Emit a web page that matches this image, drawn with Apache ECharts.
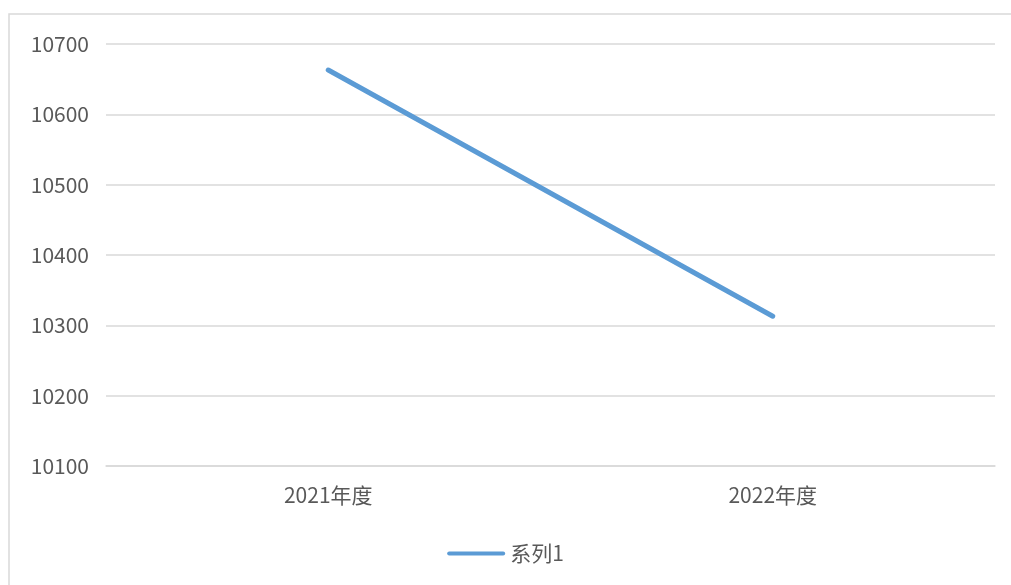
<!DOCTYPE html>
<html><head><meta charset="utf-8">
<script src="https://cdn.jsdelivr.net/npm/echarts@6/dist/echarts.min.js"></script>
<style>html,body{margin:0;padding:0;background:#fff}#c{width:1011px;height:585px}</style>
</head><body><div id="c"></div>
<script>
const categories = ['2021年度', '2022年度'];
const seriesName = '系列1';
const values = [10663, 10313];
const yMin = 10100, yMax = 10700, yStep = 100;

const chart = echarts.init(document.getElementById('c'), null, {renderer: 'canvas'});
const font = '"Noto Sans CJK SC", "Noto Sans", sans-serif';
chart.setOption({
  animation: false,
  backgroundColor: '#fff',
  graphic: [{
    type: 'rect', shape: {x: 9, y: 14, width: 1010, height: 580},
    style: {fill: 'none', stroke: '#d9d9d9', lineWidth: 1.5}, silent: true
  }],
  grid: {left: 106, right: 16, top: 44, bottom: 119, containLabel: false},
  legend: {
    data: [seriesName], bottom: 16, left: 'center',
    itemWidth: 58, itemHeight: 14, itemGap: 6,
    icon: 'path://M2,5 L56,5 A2,2 0 0 1 56,9 L2,9 A2,2 0 0 1 2,5 Z',
    textStyle: {color: '#595959', fontSize: 21, fontFamily: font}
  },
  xAxis: {
    type: 'category', data: categories, boundaryGap: true,
    axisLine: {show: true, lineStyle: {color: '#d9d9d9', width: 1.5}},
    axisTick: {show: false},
    axisLabel: {color: '#595959', fontSize: 21, fontFamily: font, margin: 19}
  },
  yAxis: {
    type: 'value', min: yMin, max: yMax, interval: yStep,
    axisLine: {show: false}, axisTick: {show: false},
    splitLine: {lineStyle: {color: '#d9d9d9', width: 1.5}},
    axisLabel: {color: '#595959', fontSize: 21, fontFamily: font, margin: 17,
      formatter: v => String(v)}
  },
  series: [{
    name: seriesName, type: 'line', data: values,
    symbol: 'none', color: '#5B9BD5',
    lineStyle: {width: 5, color: '#5B9BD5', cap: 'round'}
  }]
});
</script></body></html>
